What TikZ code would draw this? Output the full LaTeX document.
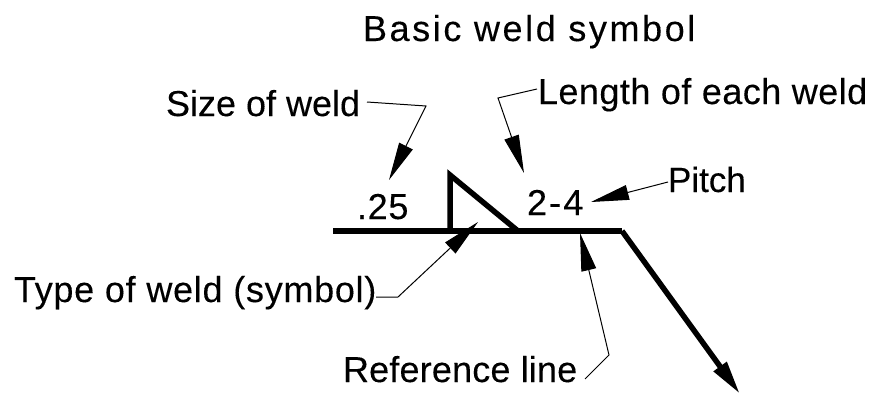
\documentclass[tikz,border=0pt]{standalone}
\usepackage{fontspec}
\setmainfont{Liberation Sans}[FakeBold=0.2]
\usetikzlibrary{arrows.meta}
\tikzset{
  lbl/.style={anchor=base west,inner sep=0pt,outer sep=0pt,font=\fontsize{36}{40}\selectfont},
  lblwide/.style={lbl,font=\fontsize{36}{40}\selectfont\addfontfeature{LetterSpace=#1}},
  leader/.style={line width=1pt,-{Triangle[length=38pt,width=15pt]}},
  heavy/.style={line width=5.5pt,line join=miter},
}
\begin{document}
\begin{tikzpicture}[x=1pt,y=-1pt]
\useasboundingbox (0,0) rectangle (870,394);
\fill[white] (0,0) rectangle (870,394);
\node[lblwide=7.2] (title) at (363,41) {Basic weld symbol};
\node[lbl] (size) at (166,116) {Size of weld};
\node[lblwide=1.3] (length) at (538,104) {Length of each weld};
\node[lbl,font=\fontsize{35}{40}\selectfont] (pitch) at (668,192) {Pitch};
\node[lblwide=2] (val) at (357,219) {.25};
\node[lblwide=6] (pitchval) at (527,215) {2-4};
\node[lblwide=2] (type) at (14,302) {Type of weld (symbol)};
\node[lblwide=0.5] (ref) at (343,382) {Reference line};
% coordinates
\coordinate (a1) at (367,102); \coordinate (a2) at (426,106); \coordinate (a3) at (389,180);
\coordinate (b1) at (537,89); \coordinate (b2) at (498,98); \coordinate (b3) at (524,173);
\coordinate (c1) at (668,182); \coordinate (c3) at (591,202);
\coordinate (d1) at (376,297); \coordinate (d2) at (398,297); \coordinate (d3) at (478,222);
\coordinate (e1) at (585,379); \coordinate (e2) at (609,355); \coordinate (e3) at (580,233);
\coordinate (r1) at (333,231); \coordinate (r2) at (622,231); \coordinate (r3) at (740,394);
\coordinate (t1) at (450,231); \coordinate (t2) at (450,175); \coordinate (t3) at (518,231);
\draw[leader] (a1) -- (a2) -- (a3);
\draw[leader] (b1) -- (b2) -- (b3);
\draw[leader] (c1) -- (c3);
\draw[leader] (d1) -- (d2) -- (d3);
\draw[leader] (e1) -- (e2) -- (e3);
\draw[heavy] (r1) -- (r2);
\draw[heavy,-{Triangle[length=34pt,width=15pt]}] (r2) -- (r3);
\draw[heavy] (t1) -- (t2) -- (t3);
\end{tikzpicture}
\end{document}
